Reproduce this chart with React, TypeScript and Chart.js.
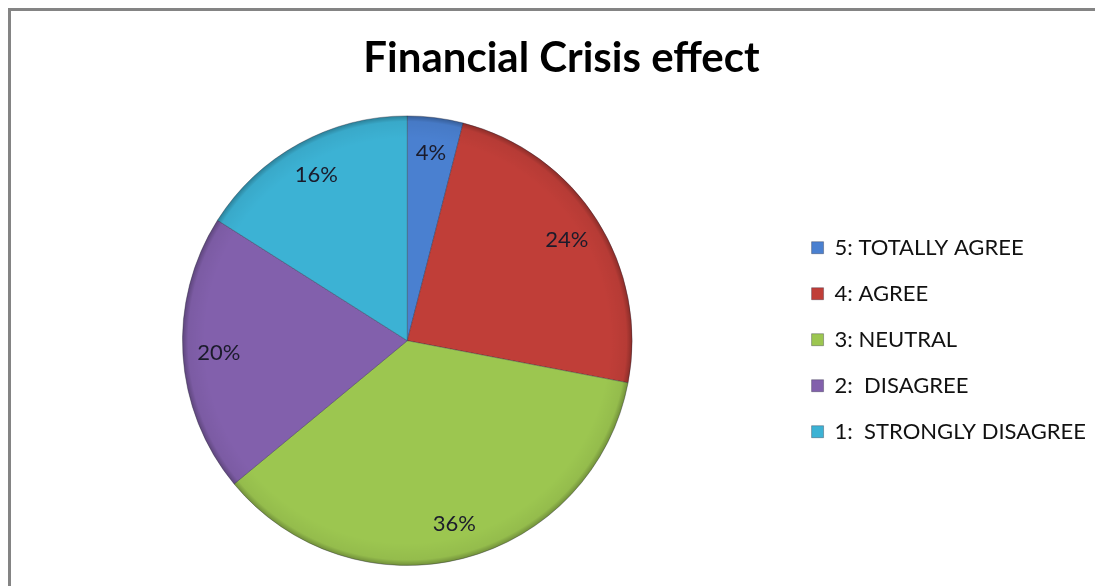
import React, { useEffect, useRef } from "react";
import { Chart, registerables } from "chart.js";

Chart.register(...registerables);

const TITLE = "Financial Crisis effect";
const categories = [
  "5: TOTALLY AGREE",
  "4: AGREE",
  "3: NEUTRAL",
  "2:  DISAGREE",
  "1:  STRONGLY DISAGREE",
];
const percentValues = [4, 24, 36, 20, 16];
const sliceColors = ["#4A80D0", "#C03E38", "#9CC650", "#8260AC", "#3CB2D4"];

const FONT = "Lato, 'Open Sans', sans-serif";

const labelPlugin = {
  id: "sliceLabels",
  afterDatasetsDraw(chart: any) {
    const { ctx } = chart;
    const meta = chart.getDatasetMeta(0);
    ctx.save();
    ctx.font = `22px ${FONT}`;
    ctx.fillStyle = "#1b1b2b";
    ctx.textAlign = "center";
    ctx.textBaseline = "middle";
    meta.data.forEach((arc: any, i: number) => {
      const { x, y, startAngle, endAngle, outerRadius } = arc.getProps(
        ["x", "y", "startAngle", "endAngle", "outerRadius"],
        true
      );
      const mid = (startAngle + endAngle) / 2;
      const r = outerRadius * 0.84;
      ctx.fillText(`${percentValues[i]}%`, x + Math.cos(mid) * r, y + Math.sin(mid) * r);
    });
    ctx.restore();
  },
};

const bevelPlugin = {
  id: "bevel",
  afterDatasetsDraw(chart: any) {
    const { ctx } = chart;
    const meta = chart.getDatasetMeta(0);
    const arc = meta.data[0];
    if (!arc) return;
    const { x, y, outerRadius } = arc.getProps(["x", "y", "outerRadius"], true);
    ctx.save();
    const g = ctx.createRadialGradient(x, y, outerRadius * 0.9, x, y, outerRadius);
    g.addColorStop(0, "rgba(0,0,0,0)");
    g.addColorStop(0.75, "rgba(0,0,0,0.05)");
    g.addColorStop(1, "rgba(0,0,0,0.28)");
    ctx.beginPath();
    ctx.arc(x, y, outerRadius, 0, Math.PI * 2);
    ctx.fillStyle = g;
    ctx.fill();
    ctx.restore();
  },
};

export default function App() {
  const ref = useRef<HTMLCanvasElement | null>(null);
  useEffect(() => {
    if (!ref.current) return;
    const chart = new Chart(ref.current, {
      type: "pie",
      data: {
        labels: categories,
        datasets: [
          {
            data: percentValues,
            backgroundColor: sliceColors,
            borderColor: "rgba(40,40,60,0.35)",
            borderWidth: 1,
          },
        ],
      },
      options: {
        animation: false,
        responsive: false,
        layout: { padding: { left: 16, right: 7, top: 0, bottom: 20 } },
        plugins: {
          tooltip: { enabled: false },
          title: {
            display: true,
            text: TITLE,
            color: "#000",
            font: { family: FONT, size: 42, weight: "bold", lineHeight: 1.2 },
            padding: { top: 22, bottom: 32 },
          },
          legend: {
            position: "right",
            title: {
              display: true,
              text: " ",
              font: { size: 12, lineHeight: 1.2 },
              padding: { top: 44, bottom: 44 },
            },
            labels: {
              boxWidth: 12,
              boxHeight: 12,
              padding: 24,
              color: "#111",
              font: { family: FONT, size: 22 },
            },
          },
        },
      },
      plugins: [bevelPlugin, labelPlugin],
    });
    return () => chart.destroy();
  }, []);
  return (
    <div
      style={{
        width: 1092,
        height: 575,
        borderTop: "3px solid #848484",
        borderLeft: "3px solid #848484",
        background: "#fff",
        overflow: "hidden",
      }}
    >
      <canvas ref={ref} width={1092} height={575} style={{ display: "block" }} />
    </div>
  );
}
